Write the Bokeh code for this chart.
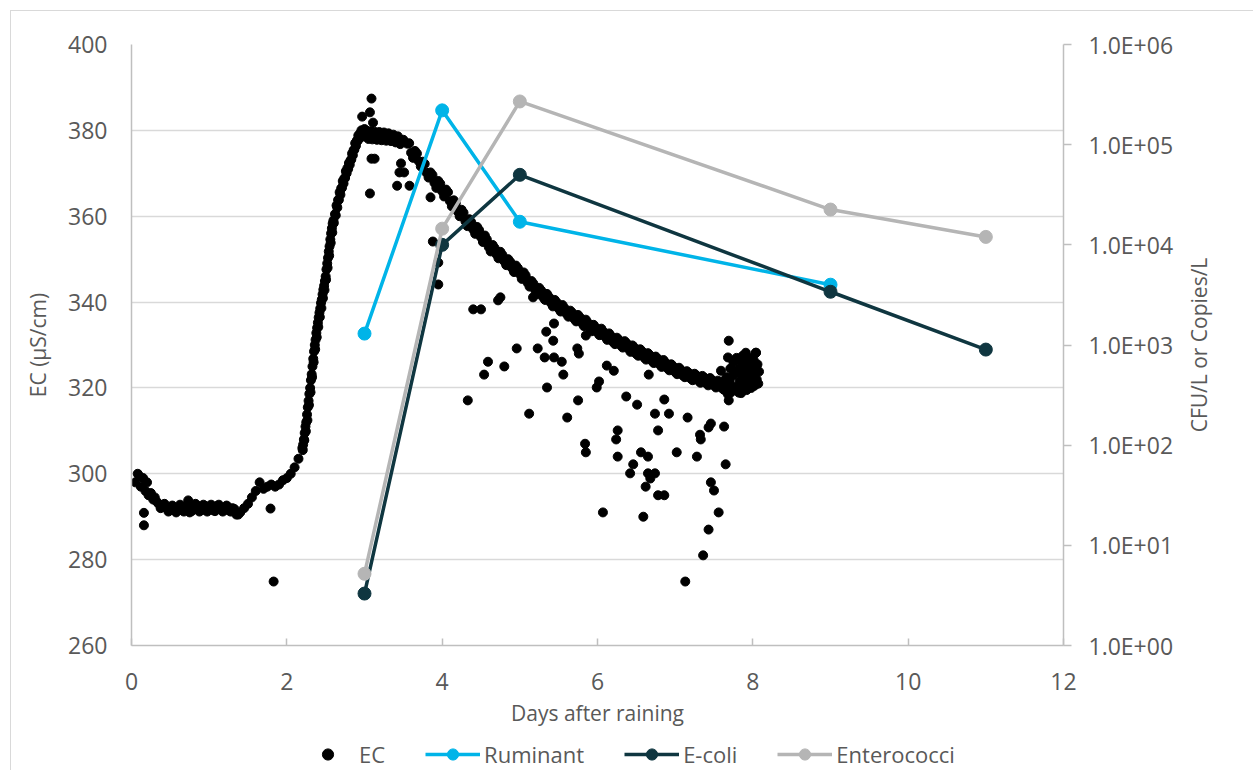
import math
from bokeh.plotting import figure
from bokeh.layouts import column, row
from bokeh.models import (Range1d, LogScale, LogAxis, FixedTicker,
                          CustomJSTickFormatter, Legend, LegendItem, Label)
from bokeh.embed import file_html
from bokeh.resources import INLINE

# ---------------- data ----------------
# EC logger trend (days after raining, EC in uS/cm)
ec_trend_day = [
    0.05, 0.08, 0.10, 0.12, 0.15, 0.18, 0.20, 0.22, 0.25, 0.28, 0.30, 0.35, 0.40, 0.45,
    0.50, 0.55, 0.60, 0.65, 0.70, 0.73, 0.75, 0.80, 0.85, 0.90, 0.95, 1.00, 1.05, 1.10,
    1.15, 1.20, 1.25, 1.30, 1.35, 1.40, 1.45, 1.50, 1.55, 1.60, 1.65, 1.70, 1.75, 1.80,
    1.85, 1.90, 1.95, 2.00, 2.05, 2.10, 2.15,
    2.20, 2.21, 2.22, 2.23, 2.24, 2.25, 2.26, 2.27, 2.28, 2.29, 2.30, 2.31, 2.32, 2.33,
    2.34, 2.35, 2.36, 2.37, 2.38, 2.39, 2.40, 2.41, 2.42, 2.43, 2.44, 2.45, 2.46, 2.47,
    2.48, 2.49, 2.50, 2.51, 2.52, 2.53, 2.54, 2.55, 2.56, 2.57, 2.58, 2.59, 2.60,
    2.62, 2.64, 2.66, 2.68, 2.70, 2.72, 2.74, 2.76, 2.78, 2.80, 2.82, 2.84, 2.86, 2.88,
    2.90, 2.92, 2.94, 2.96, 2.98, 3.00,
    3.02, 3.05, 3.08, 3.10, 3.13, 3.16, 3.19, 3.22, 3.25, 3.28, 3.31, 3.34, 3.37, 3.40,
    3.43, 3.46, 3.50,
    3.55, 3.60, 3.65, 3.70, 3.75, 3.80, 3.85, 3.90, 3.95, 4.00, 4.05, 4.10, 4.15, 4.20,
    4.25, 4.30, 4.35, 4.40, 4.45, 4.50, 4.55, 4.60, 4.65, 4.70, 4.75, 4.80, 4.85, 4.90,
    4.95, 5.00, 5.05, 5.10, 5.15, 5.20, 5.25, 5.30, 5.35, 5.40, 5.45, 5.50, 5.55, 5.60,
    5.65, 5.70, 5.75, 5.80, 5.85, 5.90, 5.95, 6.00, 6.05, 6.10, 6.15, 6.20, 6.25, 6.30,
    6.35, 6.40, 6.45, 6.50, 6.55, 6.60, 6.65, 6.70, 6.75, 6.80, 6.85, 6.90, 6.95, 7.00,
    7.05, 7.10, 7.15, 7.20, 7.25, 7.30, 7.35, 7.40, 7.45, 7.50, 7.55, 7.60, 7.65, 7.70,
    7.62, 7.64, 7.66, 7.68, 7.70, 7.71, 7.72, 7.74, 7.75, 7.76, 7.78, 7.79, 7.80, 7.82,
    7.83, 7.84, 7.85, 7.86, 7.87, 7.88, 7.89, 7.90, 7.91, 7.92, 7.93, 7.94, 7.95, 7.96,
    7.97, 7.98, 7.99, 8.00, 8.01, 8.02, 8.03, 8.04, 8.05, 8.06, 8.07, 8.08,
]
ec_trend_val = [
    298.0, 300.0, 299.5, 297.0, 299.0, 296.0, 298.0, 295.0, 295.5, 294.0, 294.5, 293.0, 292.5, 292.0,
    291.5, 291.5, 292.0, 291.5, 292.5, 293.8, 291.0, 292.0, 292.5, 291.5, 292.5, 292.0, 291.5, 292.5,
    292.0, 292.0, 291.5, 292.0, 290.5, 291.0, 292.0, 293.0, 294.5, 296.0, 298.0, 296.5, 297.0, 297.5,
    297.0, 297.5, 298.5, 299.0, 300.0, 301.5, 303.5,
    306.0, 306.8, 308.0, 309.5, 311.0, 312.0, 313.8, 315.5, 317.0, 318.6, 320.0, 321.8, 323.2, 325.0,
    326.8, 328.5, 330.0, 331.2, 332.8, 334.0, 335.2, 336.4, 337.5, 338.5, 339.8, 340.6, 341.8, 342.9,
    343.8, 344.9, 346.0, 347.6, 349.0, 350.3, 351.8, 353.0, 354.6, 356.0, 357.2, 358.3, 359.0,
    360.5, 362.5, 363.8, 365.6, 366.5, 368.2, 368.8, 370.5, 371.2, 372.4, 373.0, 374.6, 375.4, 377.0,
    377.6, 378.8, 379.2, 380.0, 379.4, 380.3,
    380.0, 378.0, 379.8, 377.9, 379.7, 377.8, 379.6, 377.7, 379.5, 377.6, 379.3, 377.5, 379.0, 377.2,
    378.6, 376.8, 377.8,
    376.9, 374.8, 375.2, 372.8, 372.7, 370.1, 370.2, 367.8, 368.2, 365.8, 366.2, 363.5, 363.7, 361.1,
    361.5, 358.8, 359.3, 356.9, 357.5, 355.1, 355.5, 352.8, 353.3, 351.1, 351.7, 349.5, 350.0, 347.9,
    348.5, 346.5, 346.9, 344.5, 344.9, 342.7, 343.3, 341.1, 341.9, 339.8, 340.5, 338.5, 339.3, 337.3,
    338.0, 336.1, 337.0, 335.1, 335.9, 333.9, 334.7, 332.9, 333.8, 331.9, 332.7, 330.7, 331.7, 329.9,
    330.9, 329.1, 329.9, 327.9, 329.0, 327.1, 328.1, 326.3, 327.3, 325.5, 326.5, 324.6, 325.5, 323.7,
    324.7, 322.9, 323.9, 322.2, 323.3, 321.7, 322.8, 321.1, 322.3, 320.6, 321.7, 320.0, 320.8, 319.4,
    321.5, 319.5, 322.5, 318.5, 321.5, 324.5, 319.0, 322.8, 326.0, 320.2, 323.5, 327.0, 319.5, 324.5,
    321.5, 326.5, 318.8, 323.0, 327.5, 320.5, 325.0, 322.0, 328.2, 319.5, 324.0, 326.5, 321.5, 323.5,
    327.0, 320.0, 325.0, 322.5, 326.5, 320.5, 324.0, 328.2, 322.0, 325.5, 321.0, 323.8,
]
# in-between logger readings that thicken the trend band
ec_band_day = [
    0.325, 0.375, 0.425, 0.475, 0.525, 0.575, 0.625, 0.675, 0.725, 0.775, 0.825, 0.875,
    0.925, 0.975, 1.025, 1.075, 1.125, 1.175, 1.225, 1.275, 1.325, 1.375,
    2.205, 2.225, 2.245, 2.265, 2.285, 2.305, 2.325, 2.345, 2.365, 2.385, 2.405, 2.425,
    2.445, 2.465, 2.485, 2.505, 2.525, 2.545, 2.565, 2.585, 2.605, 2.63, 2.65, 2.67,
    2.69, 2.71, 2.73, 2.75, 2.77, 2.79, 2.81, 2.83, 2.85, 2.87, 2.89, 2.91, 2.93, 2.95,
    2.97, 2.99,
    3.575, 3.625, 3.675, 3.725, 3.775, 3.825, 3.875, 3.925, 3.975, 4.025, 4.075, 4.125,
    4.175, 4.225, 4.275, 4.325, 4.375, 4.425, 4.475, 4.525, 4.575, 4.625, 4.675, 4.725,
    4.775, 4.825, 4.875, 4.925, 4.975, 5.025, 5.075, 5.125, 5.175, 5.225, 5.275, 5.325,
    5.375, 5.425, 5.475, 5.525, 5.575, 5.625, 5.675, 5.725, 5.775, 5.825, 5.875, 5.925,
    5.975, 6.025, 6.075, 6.125, 6.175, 6.225, 6.275, 6.325, 6.375, 6.425, 6.475, 6.525,
    6.575, 6.625, 6.675, 6.725, 6.775, 6.825, 6.875, 6.925, 6.975, 7.025, 7.075, 7.125,
    7.175, 7.225, 7.275, 7.325, 7.375, 7.425, 7.475, 7.525, 7.575, 7.625, 7.675,
]
ec_band_val = [
    293.5, 292.0, 293.0, 291.2, 292.6, 291.0, 292.8, 291.2, 292.6, 291.3, 293.0, 291.2,
    292.8, 291.2, 292.8, 291.3, 292.8, 291.2, 292.6, 291.2, 291.8, 290.5,
    305.5, 307.8, 309.9, 312.5, 316.0, 319.0, 322.5, 326.0, 329.0, 331.8, 334.2, 336.5,
    338.6, 340.9, 342.8, 345.2, 348.0, 350.8, 353.8, 356.2, 358.4, 360.2, 362.0, 363.8,
    365.0, 366.6, 367.6, 368.9, 370.0, 371.0, 372.0, 373.2, 374.2, 375.5, 376.4, 377.5,
    378.0, 378.5, 378.8, 378.6,
    377.0, 373.6, 374.6, 371.6, 372.2, 369.0, 369.6, 366.6, 367.6, 364.6, 365.6, 362.3,
    363.0, 360.0, 360.8, 357.7, 358.6, 355.9, 356.8, 354.0, 354.6, 351.8, 352.6, 350.2,
    351.0, 348.6, 349.4, 347.0, 347.9, 345.4, 346.2, 343.6, 344.3, 341.9, 342.7, 340.5,
    341.2, 339.0, 339.9, 337.8, 338.6, 336.6, 337.5, 335.5, 336.4, 334.4, 335.2, 333.2,
    334.1, 332.3, 333.1, 331.2, 332.1, 330.2, 331.2, 329.4, 330.4, 328.4, 329.4, 327.5,
    328.5, 326.6, 327.6, 325.8, 326.8, 324.9, 325.9, 324.1, 325.0, 323.2, 324.2, 322.5,
    323.5, 321.8, 322.9, 321.2, 322.4, 320.6, 321.8, 320.1, 321.2, 319.6, 320.3,
]
# scattered EC readings away from the main trend
ec_scatter_day = [
    0.16, 0.16, 1.79, 1.83,
    3.09, 3.07, 2.97, 3.11, 3.09, 3.13, 3.07, 3.47, 3.45, 3.51, 3.42, 3.58, 3.85,
    3.88, 3.95, 3.95,
    4.40, 4.50, 4.72, 4.75, 5.17, 5.44, 5.34, 5.43, 4.96, 5.23, 5.32, 5.44, 5.54, 5.74,
    5.76, 5.85, 4.59, 4.80, 4.54, 5.56, 5.35, 5.99, 6.02, 4.33, 5.75, 5.12, 5.61, 5.84, 5.85,
    6.12, 6.21, 6.66, 6.37, 6.51, 6.86, 6.74, 6.92, 7.16, 6.26, 6.24, 6.78, 7.46, 7.43,
    7.63, 7.32, 7.33, 6.26, 6.56, 6.65, 7.02, 7.28, 6.46, 6.42, 6.65, 6.74, 6.68, 6.62,
    7.65, 7.46, 7.50, 6.78, 6.86, 6.07, 6.59, 7.56, 7.43, 7.36, 7.13,
    7.69, 7.68, 7.82, 7.69, 7.59, 8.04,
]
ec_scatter_val = [
    290.9, 288.0, 291.9, 274.9,
    387.4, 384.2, 383.2, 381.8, 373.4, 373.4, 365.3, 372.3, 370.2, 370.2, 367.1, 367.1, 364.4,
    354.1, 349.2, 344.1,
    338.3, 338.3, 340.4, 341.1, 341.1, 335.0, 333.1, 331.0, 329.2, 329.2, 327.1, 327.1, 326.1, 329.2,
    328.0, 332.2, 326.1, 325.0, 323.1, 323.1, 320.1, 320.1, 321.5, 317.1, 317.1, 314.0, 313.1, 307.0, 305.0,
    325.2, 324.0, 323.1, 318.0, 316.1, 317.3, 314.0, 314.0, 313.1, 310.1, 308.0, 310.1, 311.7, 310.8,
    311.0, 309.1, 308.0, 304.0, 305.0, 304.0, 305.0, 304.0, 302.2, 300.1, 300.1, 300.1, 298.9, 297.0,
    302.2, 298.0, 296.1, 295.0, 295.0, 291.0, 290.0, 291.0, 287.0, 281.0, 274.9,
    331.0, 327.1, 318.9, 317.1, 324.0, 328.2,
]

# microbial samples (CFU/L or copies/L)
ruminant_day = [3, 4, 5, 9]
ruminant_val = [1300, 220000, 17000, 4000]
ecoli_day = [3, 4, 5, 9, 11]
ecoli_val = [3.3, 10000, 50000, 3400, 900]
entero_day = [3, 4, 5, 9, 11]
entero_val = [5.2, 14500, 270000, 22500, 12000]

series_names = ["EC", "Ruminant", "E-coli", "Enterococci"]
x_ticks = [0, 2, 4, 6, 8, 10, 12]
ec_ticks = [260, 280, 300, 320, 340, 360, 380, 400]
log_ticks = [1, 10, 100, 1000, 10000, 100000, 1000000]

# ---------------- styling ----------------
FONT = "Open Sans"
TXT = "#595959"
AXIS = "#BFBFBF"
GRID = "#D9D9D9"
C_RUM = "#00B4E8"
C_ECO = "#0F3640"
C_ENT = "#B5B5B5"

OFF = 11                      # chart-area border offset (margin 10 + 1px border)
W_MAIN = 1176 - OFF
W_ALL = 1242
W_RT = W_ALL - W_MAIN
H_MAIN = 730 - OFF
H_LEG = 40
FL, FR, FT, FB = 131 - OFF, 1063 - OFF, 44 - OFF, 645 - OFF   # frame edges

p = figure(width=W_MAIN, height=H_MAIN, x_range=Range1d(0, 12), y_range=Range1d(260, 400),
           output_backend="svg", toolbar_location=None,
           min_border_left=FL, min_border_right=W_MAIN - FR,
           min_border_top=FT, min_border_bottom=H_MAIN - FB)
p.outline_line_color = None
p.background_fill_color = "white"
p.border_fill_color = "white"

# x axis
xa = p.xaxis[0]
xa.ticker = FixedTicker(ticks=x_ticks)
xa.axis_label = "Days after raining"
xa.major_tick_in = 7
xa.major_tick_out = 0
xa.minor_tick_line_color = None
xa.major_label_standoff = 27

# left axis
ya = p.yaxis[0]
ya.ticker = FixedTicker(ticks=ec_ticks)
ya.axis_label = "EC (µS/cm)"
ya.major_tick_in = 0
ya.major_tick_out = 0
ya.minor_tick_line_color = None
ya.major_label_standoff = 24

# right log axis (its title is drawn in the narrow strip to the right)
p.extra_y_ranges = {"bac": Range1d(1, 1e6)}
p.extra_y_scales = {"bac": LogScale()}
ra = LogAxis(y_range_name="bac", ticker=FixedTicker(ticks=log_ticks),
             formatter=CustomJSTickFormatter(code="""
const s = tick.toExponential(1);
const parts = s.split('e');
const sign = parts[1][0];
let d = parts[1].slice(1);
if (d.length < 2) { d = '0' + d; }
return parts[0] + 'E' + sign + d;
"""))
ra.major_tick_in = 0
ra.major_tick_out = 8
ra.minor_tick_line_color = None
ra.major_label_standoff = 17
p.add_layout(ra, "right")

for ax in (xa, ya, ra):
    ax.axis_line_color = AXIS
    ax.axis_line_width = 1.5
    ax.major_tick_line_color = AXIS
    ax.major_tick_line_width = 1.5
    ax.major_label_text_font = FONT
    ax.major_label_text_font_size = "23px"
    ax.major_label_text_color = TXT
    ax.axis_label_text_font = FONT
    ax.axis_label_text_font_size = "21px"
    ax.axis_label_text_font_style = "normal"
    ax.axis_label_text_color = TXT
xa.axis_label_standoff = 6
ya.axis_label_standoff = 13

p.xgrid.visible = False
p.ygrid.grid_line_color = GRID
p.ygrid.grid_line_width = 1.5
p.ygrid.ticker = FixedTicker(ticks=ec_ticks)

# ---------------- glyphs ----------------
ec_x = ec_trend_day + ec_band_day + ec_scatter_day
ec_y = ec_trend_val + ec_band_val + ec_scatter_val
p.scatter(ec_x, ec_y, marker="circle", size=9, color="black")

line_series = (("Ruminant", ruminant_day, ruminant_val, C_RUM),
               ("E-coli", ecoli_day, ecoli_val, C_ECO),
               ("Enterococci", entero_day, entero_val, C_ENT))
for name, xs, ys, col in line_series:
    p.line(xs, ys, y_range_name="bac", line_width=3.5, line_color=col)
    p.scatter(xs, ys, y_range_name="bac", marker="circle", size=13,
              fill_color=col, line_color=col)

# ---------------- right axis title strip ----------------
rt = figure(width=W_RT, height=H_MAIN, x_range=Range1d(0, W_RT), y_range=Range1d(0, 1),
            x_axis_type=None, y_axis_type=None, output_backend="svg",
            toolbar_location=None, min_border_left=0, min_border_right=0,
            min_border_top=FT, min_border_bottom=H_MAIN - FB)
rt.outline_line_color = None
rt.background_fill_color = "white"
rt.border_fill_color = "white"
rt.xgrid.visible = False
rt.ygrid.visible = False
rt.add_layout(Label(x=22, y=0.5, text="CFU/L or Copies/L", angle=math.pi / 2,
                    text_align="center", text_baseline="middle",
                    text_font=FONT, text_font_size="21px", text_color=TXT))

# ---------------- legend strip ----------------
lg = figure(width=W_ALL, height=H_LEG, x_range=Range1d(0, 1), y_range=Range1d(-2, -1),
            x_axis_type=None, y_axis_type=None,
            output_backend="svg", toolbar_location=None,
            min_border_left=FL, min_border_right=W_ALL - FR,
            min_border_top=0, min_border_bottom=0)
lg.outline_line_color = None
lg.background_fill_color = "white"
lg.border_fill_color = "white"
lg.xgrid.visible = False
lg.ygrid.visible = False

# legend-only renderers: same data, but outside this strip's visible ranges
items = [LegendItem(label=series_names[0],
                    renderers=[lg.scatter(ec_scatter_day, ec_scatter_val, marker="circle",
                                          size=7, color="black")])]
for name, xs, ys, col in line_series:
    lr = lg.line(xs, ys, line_width=3.5, line_color=col)
    sr = lg.scatter(xs, ys, marker="circle", size=13, fill_color=col, line_color=col)
    items.append(LegendItem(label=name, renderers=[lr, sr]))

legend = Legend(items=items, orientation="horizontal", location=(169, 1),
                glyph_width=55, glyph_height=28, label_standoff=4, spacing=40,
                padding=0, margin=0, border_line_color=None,
                background_fill_alpha=0,
                label_text_font=FONT, label_text_font_size="22px",
                label_text_color=TXT)
lg.add_layout(legend)

layout = column(row(p, rt, spacing=0), lg, spacing=0)
layout.styles = {"margin-left": "10px", "margin-top": "10px",
                 "border-left": "1px solid #D9D9D9", "border-top": "1px solid #D9D9D9"}
open("out.html", "w").write(file_html(layout, INLINE))
